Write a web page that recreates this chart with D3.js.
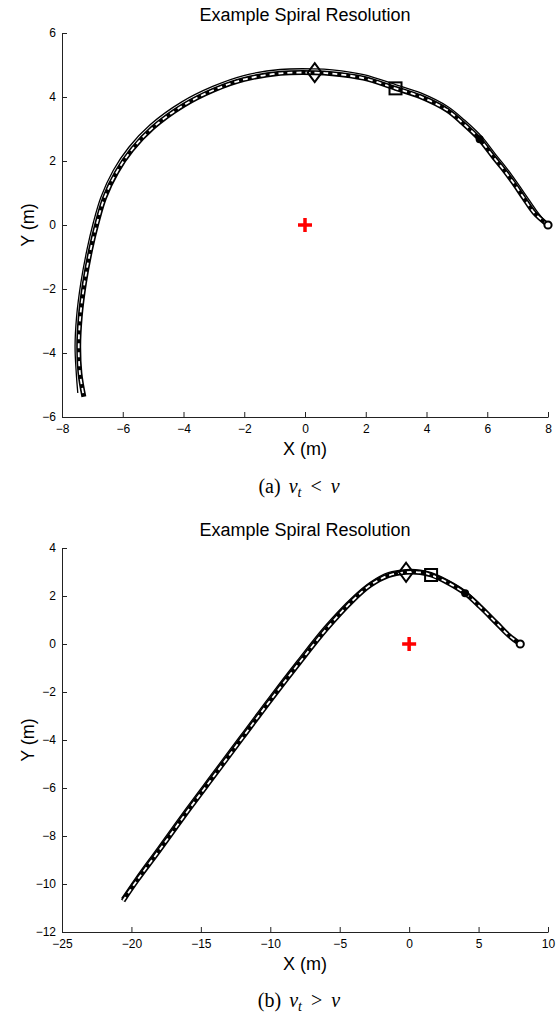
<!DOCTYPE html>
<html>
<head>
<meta charset="utf-8">
<script src="https://cdn.jsdelivr.net/npm/d3@7"></script>
<style>
  body { margin: 0; background: #fff; }
  text { font-family: "Liberation Sans", Arial, sans-serif; }
  .axis path, .axis line { stroke: #222; }
  .axis text { font-size: 12px; fill: #000; }
</style>
</head>
<body>
<div id="chart"></div>
<script>

// ---- data ----
// (a) v_t < v
var topBand = [[8.00,0.00],[7.55,0.38],[7.20,0.85],[6.87,1.31],[6.50,1.78],[6.21,2.12],[5.75,2.68],[5.20,3.18],[4.68,3.59],[3.80,4.01],[2.98,4.27],[1.92,4.59],[0.90,4.73],[0.32,4.76],[-0.81,4.74],[-2.00,4.55],[-3.00,4.22],[-4.00,3.74],[-5.00,3.05],[-5.70,2.35],[-6.20,1.65],[-6.60,0.85],[-6.85,0.05],[-7.06,-0.78],[-7.26,-1.81],[-7.40,-2.87],[-7.45,-3.80],[-7.41,-4.63],[-7.28,-5.37]];
var topThin = [[8.00,0.00],[7.62,0.45],[7.28,0.92],[6.95,1.37],[6.58,1.85],[6.28,2.20],[5.82,2.76],[5.26,3.27],[4.72,3.69],[3.83,4.12],[3.00,4.38],[1.93,4.70],[0.90,4.85],[0.30,4.88],[-0.82,4.86],[-2.02,4.67],[-3.04,4.33],[-4.07,3.84],[-5.09,3.14],[-5.80,2.43],[-6.31,1.71],[-6.71,0.89],[-6.97,0.07],[-7.18,-0.78],[-7.38,-1.81],[-7.52,-2.87],[-7.57,-3.80],[-7.53,-4.63],[-7.48,-5.25]];
var topMarkers = { start: [8, 0], dot: [5.75, 2.68], square: [2.98, 4.27], diamond: [0.32, 4.76], center: [0, 0] };
var topXTicks = [-8, -6, -4, -2, 0, 2, 4, 6, 8];
var topYTicks = [-6, -4, -2, 0, 2, 4, 6];

// (b) v_t > v
var botBand = [[-20.6,-10.7],[-19.6,-9.85],[-18.0,-8.60],[-16.0,-7.00],[-14.0,-5.45],[-12.0,-3.90],[-10.0,-2.35],[-8.0,-0.85],[-6.0,0.60],[-4.0,1.85],[-2.8,2.45],[-1.5,2.85],[-0.22,2.99],[0.8,2.98],[1.58,2.875],[2.8,2.55],[4.03,2.11],[5.11,1.55],[6.31,0.86],[7.2,0.35],[8.0,0.0]];
var botThin = [[-20.7,-10.6],[-19.7,-9.75],[-18.1,-8.48],[-16.1,-6.88],[-14.1,-5.33],[-12.1,-3.78],[-10.1,-2.23],[-8.1,-0.73],[-6.1,0.72],[-4.05,1.97],[-2.8,2.57],[-1.5,2.97],[-0.22,3.10],[0.8,3.08],[1.6,2.97],[2.85,2.64],[4.1,2.19],[5.18,1.62],[6.38,0.92],[7.25,0.39],[8.0,0.0]];
var botMarkers = { start: [8, 0], dot: [4.03, 2.11], square: [1.58, 2.875], diamond: [-0.22, 2.99], center: [0, 0] };
var botXTicks = [-25, -20, -15, -10, -5, 0, 5, 10];
var botYTicks = [-12, -10, -8, -6, -4, -2, 0, 2, 4];

var svg = d3.select("#chart").append("svg")
    .attr("width", 560)
    .attr("height", 1015);

/*
 * SpiralPlot - one panel of the figure
 */
SpiralPlot = function(_svg, _opts){
    this.svg = _svg;
    this.opts = _opts;
    this.initVis();
}

SpiralPlot.prototype.initVis = function(){
    var vis = this, o = vis.opts;

    vis.left = 62; vis.right = 548;
    vis.top = o.top; vis.bottom = o.bottom;

    vis.x = d3.scaleLinear().domain(o.xDomain).range([vis.left, vis.right]);
    vis.y = d3.scaleLinear().domain(o.yDomain).range([vis.bottom, vis.top]);

    vis.g = vis.svg.append("g");

    // title
    vis.g.append("text")
        .attr("x", (vis.left + vis.right) / 2)
        .attr("y", vis.top - 12)
        .attr("text-anchor", "middle")
        .style("font-size", "18px")
        .text("Example Spiral Resolution");

    // axes, ticks pointing in
    vis.g.append("g")
        .attr("class", "axis")
        .attr("transform", "translate(0," + vis.bottom + ")")
        .call(d3.axisBottom(vis.x).tickValues(o.xTicks).tickSizeInner(-5).tickSizeOuter(0).tickPadding(7));

    vis.g.append("g")
        .attr("class", "axis")
        .attr("transform", "translate(" + vis.left + ",0)")
        .call(d3.axisLeft(vis.y).tickValues(o.yTicks).tickSizeInner(-5).tickSizeOuter(0).tickPadding(6));

    vis.g.append("text")
        .attr("x", (vis.left + vis.right) / 2)
        .attr("y", vis.bottom + 38)
        .attr("text-anchor", "middle")
        .style("font-size", "18px")
        .text("X (m)");

    vis.g.append("text")
        .attr("transform", "translate(34," + ((vis.top + vis.bottom) / 2) + ") rotate(-90)")
        .attr("text-anchor", "middle")
        .style("font-size", "18px")
        .text("Y (m)");

    // caption with math
    var cap = vis.g.append("text")
        .attr("x", 299)
        .attr("y", o.captionY)
        .attr("text-anchor", "middle")
        .style("font-family", "'Liberation Serif', 'Times New Roman', serif")
        .style("font-size", "20px");
    cap.append("tspan").text(o.captionTag);
    cap.append("tspan").attr("dx", 8).style("font-style", "italic").text("v");
    cap.append("tspan").style("font-style", "italic").style("font-size", "14px").attr("dy", 4).text("t");
    cap.append("tspan").attr("dy", -4).attr("dx", 9).text(o.captionOp);
    cap.append("tspan").attr("dx", 9).style("font-style", "italic").text("v");

    vis.updateVis();
}

SpiralPlot.prototype.updateVis = function(){
    var vis = this, o = vis.opts;

    var line = d3.line()
        .x(function(d) { return vis.x(d[0]); })
        .y(function(d) { return vis.y(d[1]); })
        .curve(d3.curveCatmullRom);

    vis.g.append("path")
        .attr("d", line(o.thin))
        .attr("fill", "none")
        .attr("stroke", "#000")
        .attr("stroke-width", 1.3);

    vis.g.append("path")
        .attr("d", line(o.band))
        .attr("fill", "none")
        .attr("stroke", "#000")
        .attr("stroke-width", 5);

    vis.g.append("path")
        .attr("d", line(o.band))
        .attr("fill", "none")
        .attr("stroke", "#fff")
        .attr("stroke-width", 1.8)
        .attr("stroke-dasharray", "5,4");

    var m = o.markers;

    // red plus at the centre
    vis.g.append("path")
        .attr("transform", "translate(" + vis.x(m.center[0]) + "," + vis.y(m.center[1]) + ")")
        .attr("d", "M-7,0H7M0,-7V7")
        .attr("stroke", "#f00")
        .attr("stroke-width", 3.5);

    vis.g.append("circle")
        .attr("cx", vis.x(m.start[0])).attr("cy", vis.y(m.start[1]))
        .attr("r", 3.6)
        .attr("fill", "#fff").attr("stroke", "#000").attr("stroke-width", 2);

    vis.g.append("circle")
        .attr("cx", vis.x(m.dot[0])).attr("cy", vis.y(m.dot[1]))
        .attr("r", 4)
        .attr("fill", "#000");

    vis.g.append("rect")
        .attr("x", vis.x(m.square[0]) - 6).attr("y", vis.y(m.square[1]) - 6)
        .attr("width", 12).attr("height", 12)
        .attr("fill", "none").attr("stroke", "#000").attr("stroke-width", 2);

    vis.g.append("path")
        .attr("transform", "translate(" + vis.x(m.diamond[0]) + "," + vis.y(m.diamond[1]) + ")")
        .attr("d", "M0,-9.5L7,0L0,9.5L-7,0Z")
        .attr("fill", "none").attr("stroke", "#000").attr("stroke-width", 2);
}

new SpiralPlot(svg, {
    top: 33, bottom: 417, xDomain: [-8, 8], yDomain: [-6, 6],
    xTicks: topXTicks, yTicks: topYTicks,
    band: topBand, thin: topThin, markers: topMarkers,
    captionY: 493, captionTag: "(a)", captionOp: "<"
});

new SpiralPlot(svg, {
    top: 548, bottom: 932, xDomain: [-25, 10], yDomain: [-12, 4],
    xTicks: botXTicks, yTicks: botYTicks,
    band: botBand, thin: botThin, markers: botMarkers,
    captionY: 1007, captionTag: "(b)", captionOp: ">"
});

</script>
</body>
</html>
